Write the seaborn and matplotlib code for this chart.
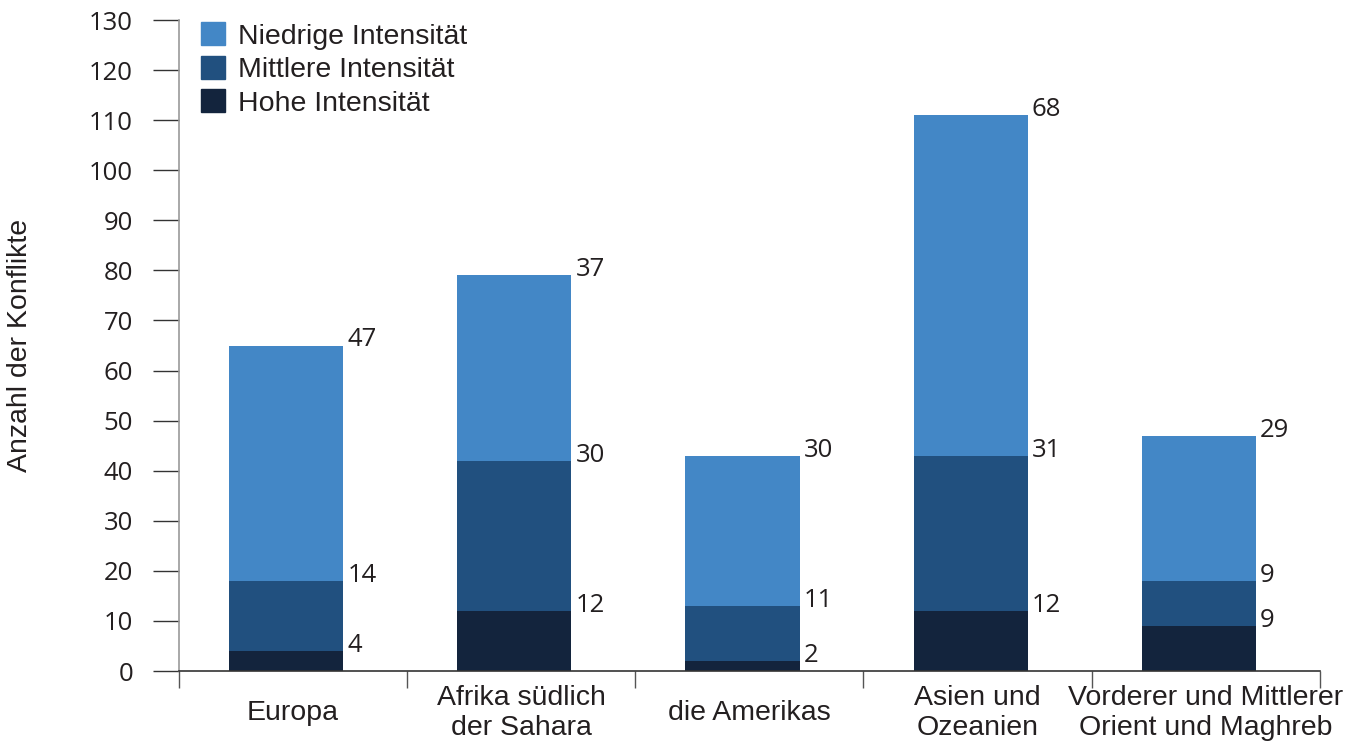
import matplotlib
matplotlib.use("Agg")
from matplotlib import pyplot as plt
from matplotlib.patches import Patch
import pandas as pd
import seaborn as sns

# Data
regions = ["Europa", "Afrika südlich\nder Sahara", "die Amerikas", "Asien und\nOzeanien",
           "Vorderer und Mittlerer\nOrient und Maghreb"]
hohe = [4, 12, 2, 12, 9]
mittlere = [14, 30, 11, 31, 9]
niedrige = [47, 37, 30, 68, 29]

c_low = "#4387C6"
c_mid = "#21507F"
c_high = "#13243D"

df = pd.DataFrame({"region": regions, "hohe": hohe, "mittlere": mittlere, "niedrige": niedrige})
df["top_high"] = df["hohe"]
df["top_mid"] = df["hohe"] + df["mittlere"]
df["top_low"] = df["top_mid"] + df["niedrige"]

sns.set_style("white")
plt.rcParams["font.family"] = ["Liberation Sans", "DejaVu Sans"]

fig = plt.figure(figsize=(13.62, 7.47), dpi=100)
ax = fig.add_axes([0.1314, 0.1017, 0.969 - 0.1314, 0.9732 - 0.1017])

# stacked bars: draw cumulative totals from the tallest down
for col, c in [("top_low", c_low), ("top_mid", c_mid), ("top_high", c_high)]:
    sns.barplot(data=df, x="region", y=col, color=c, width=0.5, saturation=1,
                linewidth=0, edgecolor="none", ax=ax)

# value labels at the right of each segment top
num_font = ["Open Sans", "DejaVu Sans"]
for i, row in df.iterrows():
    for col_top, col_val in [("top_high", "hohe"), ("top_mid", "mittlere"), ("top_low", "niedrige")]:
        ax.annotate(str(row[col_val]), xy=(i + 0.25, row[col_top]), xytext=(3, 4),
                    textcoords="offset points", ha="left", va="center",
                    fontsize=18.5, color="#231f20", family=num_font)

off = 0.03
ax.set_xlim(-0.5 + off, 4.5 + off)
ax.set_ylim(0, 130)
ax.set_yticks(range(0, 131, 10))
ax.set_yticklabels([str(v) for v in range(0, 131, 10)], family=num_font, fontsize=18.5, color="#231f20")
ax.tick_params(axis="y", direction="out", length=19, width=1, color="#333333", pad=14, left=True)

ax.set_xticks([i + off for i in range(5)])
ax.set_xticklabels(regions, fontsize=20.5, color="#231f20", linespacing=1.2, va="center")
ax.tick_params(axis="x", which="major", length=0, pad=30)
ax.set_xticks([-0.5 + off + k for k in range(6)], minor=True)
ax.tick_params(axis="x", which="minor", direction="out", length=12, width=1, color="#555555", bottom=True)

ax.set_xlabel("")
ax.set_ylabel("Anzahl der Konflikte", fontsize=20.5, color="#231f20", labelpad=40)

for s in ["top", "right"]:
    ax.spines[s].set_visible(False)
ax.spines["left"].set_color("#999999")
ax.spines["left"].set_linewidth(1.2)
ax.spines["bottom"].set_color("#333333")
ax.spines["bottom"].set_linewidth(1.2)

handles = [Patch(color=c_low, label="Niedrige Intensität"),
           Patch(color=c_mid, label="Mittlere Intensität"),
           Patch(color=c_high, label="Hohe Intensität")]
ax.legend(handles=handles, loc="upper left", bbox_to_anchor=(0.002, 1.027), frameon=False,
          fontsize=20.5, handlelength=0.85, handleheight=0.85, handletextpad=0.45,
          labelspacing=0.22, borderaxespad=0.3, labelcolor="#231f20")

fig.savefig("out.png", dpi=100)
